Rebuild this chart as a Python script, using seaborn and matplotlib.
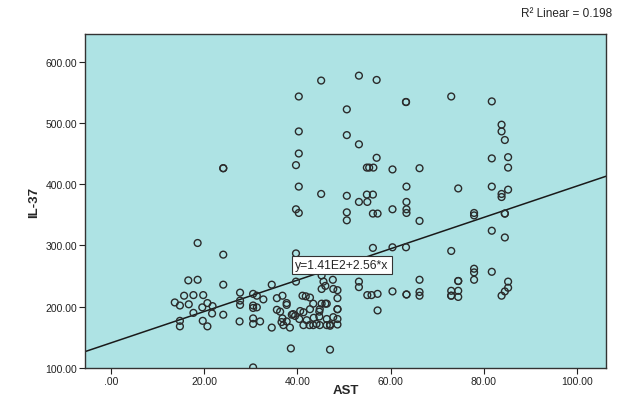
import numpy as np
import pandas as pd
import matplotlib
matplotlib.use("Agg")
import matplotlib.pyplot as plt
import seaborn as sns

# AST / IL-37 values
ast = [45.1, 53.2, 57.0, 40.3, 63.3, 63.3, 50.6, 40.3, 50.6, 53.2,
       40.3, 57.0, 39.7, 54.9, 55.4, 56.3, 60.4, 66.2, 40.3, 63.4,
       45.1, 50.6, 54.9, 56.2, 53.2, 55.0, 63.4, 39.7, 40.3, 60.4,
       63.4, 63.4, 50.6, 50.6, 56.2, 57.2, 66.2, 56.2, 60.4, 63.3,
       39.7, 24.1, 24.1, 73.0, 81.7, 83.8, 83.8, 84.5, 81.7, 85.2,
       85.2, 74.5, 81.7, 85.2, 83.8, 83.8, 77.9, 77.9, 84.5, 84.5,
       81.7, 84.5, 73.0, 77.9, 77.9, 77.9, 81.7, 85.2, 85.2, 84.5,
       83.8, 74.5, 74.5, 73.0, 74.5, 73.0, 73.0, 74.5, 47.6, 53.2,
       53.2, 66.2, 48.6, 48.6, 55.0, 55.9, 57.2, 60.4, 63.4, 63.4,
       66.2, 66.2, 57.2, 48.6, 48.6, 48.6, 48.6, 47.0, 47.0, 18.6,
       24.1, 45.2, 16.6, 18.6, 24.1, 39.7, 45.6, 46.0, 34.5, 27.7,
       30.5, 15.7, 17.7, 19.8, 13.7, 14.8, 16.7, 19.6, 20.7, 21.8,
       27.7, 27.7, 31.3, 32.7, 30.5, 30.5, 31.3, 17.7, 21.7, 24.1,
       14.8, 14.8, 19.7, 20.7, 27.6, 30.5, 30.5, 32.0, 34.5, 35.6,
       36.8, 37.7, 35.6, 36.3, 37.7, 36.8, 36.6, 37.0, 37.7, 38.4,
       39.1, 40.6, 41.3, 41.1, 41.8, 42.7, 41.3, 42.6, 43.4, 44.1,
       44.8, 46.3, 47.0, 42.7, 43.4, 45.2, 46.0, 46.3, 44.7, 44.7,
       46.3, 47.7, 45.2, 47.7, 38.6, 30.5, 44.8, 40.4, 42.0, 43.5,
       39.5, 38.8]
il37 = [569, 577, 570, 543, 534, 534, 522, 486, 480, 465,
        450, 443, 431, 427, 427, 427, 424, 426, 396, 396,
        384, 381, 383, 383, 371, 371, 371, 359, 353, 359,
        359, 353, 354, 341, 352, 352, 340, 296, 297, 297,
        287, 426, 426, 543, 535, 497, 486, 472, 442, 444,
        427, 393, 396, 391, 384, 379, 353, 349, 352, 352,
        324, 313, 291, 262, 256, 244, 257, 241, 231, 225,
        218, 242, 242, 226, 226, 218, 218, 216, 244, 241,
        232, 244, 227, 214, 219, 219, 221, 225, 220, 220,
        224, 218, 194, 196, 196, 180, 171, 169, 130, 304,
        285, 251, 243, 244, 236, 241, 241, 234, 236, 223,
        221, 218, 219, 219, 207, 202, 204, 199, 206, 201,
        210, 203, 218, 212, 202, 198, 199, 190, 189, 187,
        177, 168, 177, 168, 176, 181, 172, 176, 166, 214,
        218, 206, 195, 192, 203, 181, 175, 170, 176, 166,
        188, 193, 191, 218, 217, 215, 170, 170, 170, 172,
        170, 170, 171, 196, 205, 205, 205, 205, 192, 184,
        180, 183, 229, 229, 132, 101, 196, 180, 178, 182,
        185, 187]

# fit line from the reference label
intercept = 141.0
slope = 2.56
r2_text = "R² Linear = 0.198"
eq_text = "y=1.41E2+2.56*x"

x_ticks = [0, 20, 40, 60, 80, 100]
y_ticks = [100, 200, 300, 400, 500, 600]

df = pd.DataFrame({"AST": ast, "IL-37": il37})

sns.set_style("white")
plt.rcParams['font.family'] = ['Liberation Sans', 'DejaVu Sans']

fig = plt.figure(figsize=(6.19, 4.02), dpi=100)
ax = fig.add_axes([0.137, 0.082, 0.842, 0.831])
ax.set_facecolor("#aee3e4")

sns.scatterplot(data=df, x="AST", y="IL-37", ax=ax, marker="o", s=24,
                facecolors="none", edgecolor="#2b2b2b", linewidth=1.0,
                zorder=3)

ax.set_xlim(-5.6, 106.2)
ax.set_ylim(100, 645)

xs = np.array(ax.get_xlim())
ax.plot(xs, intercept + slope * xs, color="#1a1a1a", lw=1.1, zorder=2)

ax.text(49.6, 268, eq_text, ha="center", va="center", fontsize=8.8, zorder=5,
        bbox=dict(boxstyle="square,pad=0.25", facecolor="white",
                  edgecolor="#333333", linewidth=0.8))

ax.set_xticks(x_ticks)
ax.set_xticklabels([".00" if v == 0 else f"{v:.2f}" for v in x_ticks])
ax.set_yticks(y_ticks)
ax.set_yticklabels([f"{v:.2f}" for v in y_ticks])
ax.tick_params(axis="both", direction="out", length=4, width=0.8, pad=1.5,
               labelsize=7.5, colors="#222222", bottom=True, left=True)

for sp in ax.spines.values():
    sp.set_color("#333333")
    sp.set_linewidth(1.0)

ax.set_xlabel("AST", fontsize=9.5, fontweight="bold")
ax.xaxis.set_label_coords(0.5, -0.047)
ax.set_ylabel("IL-37", fontsize=9.5, fontweight="bold", labelpad=4)

fig.text(0.989, 0.965, r2_text, ha="right", va="center", fontsize=8.5)

fig.savefig("out.png", dpi=100)
